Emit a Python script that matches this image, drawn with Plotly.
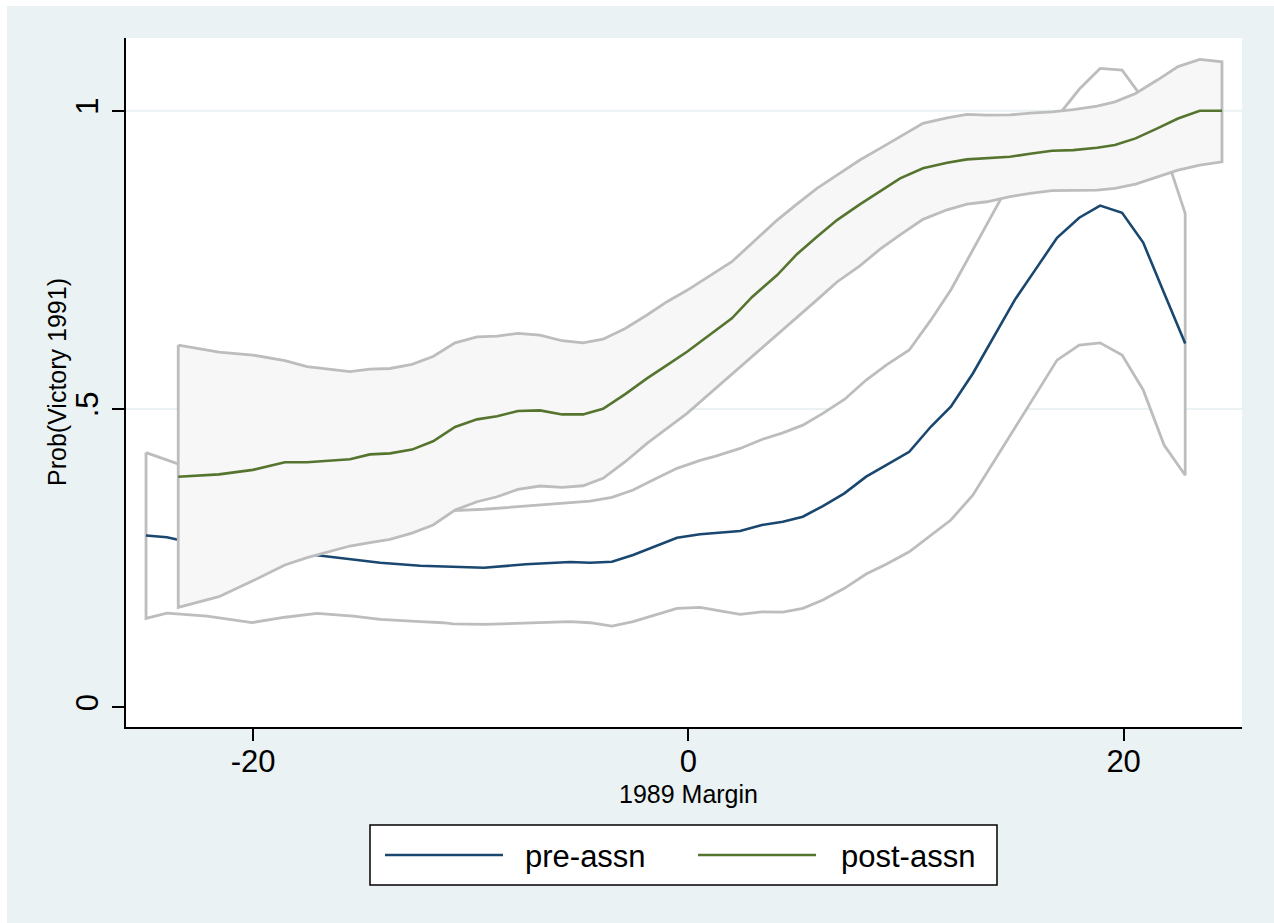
import plotly.graph_objects as go

# Pre-assassination lowess estimate with its confidence bounds
pre_margin = [-24.92, -23.96, -23.45, -22.12, -20.05, -18.53, -17.06, -15.4, -14.16,
              -12.32, -11.27, -10.81, -9.39, -7.46, -5.43, -4.52, -3.51, -2.54, -1.53,
              -0.52, 0.54, 1.26, 2.38, 3.38, 4.34, 5.26, 6.18, 7.17, 8.17, 9.09, 10.15,
              11.14, 12.06, 13.08, 15.0, 15.97, 16.94, 17.96, 18.92, 19.93, 20.9, 21.86,
              22.83]
pre_prob = [0.288, 0.285, 0.281, 0.276, 0.268, 0.262, 0.255, 0.248, 0.2424,
            0.2373, 0.2357, 0.235, 0.234, 0.2397, 0.2436, 0.2424, 0.244, 0.2553, 0.2704,
            0.2843, 0.290, 0.292, 0.2955, 0.3056, 0.311, 0.3195, 0.3374, 0.3587, 0.3866,
            0.406, 0.4284, 0.4703, 0.5039, 0.56, 0.683, 0.735, 0.787, 0.8207, 0.841,
            0.829, 0.779, 0.6945, 0.610]
pre_lower = [0.149, 0.158, 0.156, 0.153, 0.142, 0.151, 0.1576, 0.153, 0.1475,
             0.1435, 0.1418, 0.140, 0.139, 0.1418, 0.1435, 0.1418, 0.1363, 0.1435, 0.1547,
             0.1659, 0.1676, 0.163, 0.1559, 0.160, 0.1597, 0.1659, 0.180, 0.1995, 0.2234,
             0.2397, 0.2608, 0.2888, 0.314, 0.356, 0.469, 0.525, 0.582, 0.6073, 0.611,
             0.5905, 0.532, 0.4397, 0.389]
pre_upper = [0.427, 0.414, 0.408, 0.398, 0.385, 0.372, 0.360, 0.346, 0.338,
             0.333, 0.331, 0.3296, 0.332, 0.337, 0.3425, 0.3455, 0.352, 0.3642, 0.3827,
             0.4006, 0.414, 0.421, 0.434, 0.449, 0.460, 0.473, 0.4928, 0.516, 0.5486,
             0.5737, 0.599, 0.649, 0.6995, 0.7665, 0.895, 0.945, 0.99, 1.036, 1.071,
             1.068, 1.02, 0.935, 0.828]

# Post-assassination lowess estimate with its confidence bounds
post_margin = [-23.44, -21.57, -20.01, -18.54, -17.52, -15.55, -14.63, -13.71, -12.7,
               -11.73, -10.72, -9.71, -8.79, -7.83, -6.82, -5.8, -4.84, -3.92, -2.9,
               -1.9, -0.98, -0.06, 2.0, 2.93, 4.08, 5.0, 5.91, 6.83, 7.88, 8.81, 9.73,
               10.78, 11.89, 12.8, 13.72, 14.78, 15.7, 16.71, 17.68, 18.78, 19.6, 20.55,
               21.55, 22.5, 23.5, 24.52]
post_prob = [0.3866, 0.3905, 0.398, 0.4107, 0.4107, 0.4157, 0.424, 0.4257, 0.432,
             0.446, 0.470, 0.4827, 0.488, 0.4966, 0.4978, 0.491, 0.491, 0.5005, 0.525,
             0.5514, 0.5737, 0.596, 0.652, 0.688, 0.7246, 0.760, 0.789, 0.8168, 0.843,
             0.865, 0.8867, 0.9035, 0.9129, 0.9185, 0.921, 0.923, 0.928, 0.933, 0.934,
             0.938, 0.9425, 0.9537, 0.9705, 0.987, 1.0, 1.0]
post_lower = [0.1676, 0.1854, 0.212, 0.2385, 0.251, 0.2704, 0.276, 0.2816, 0.292,
              0.3056, 0.3307, 0.3446, 0.353, 0.3654, 0.371, 0.3688, 0.3714, 0.3838, 0.4117,
              0.4425, 0.4677, 0.4928, 0.557, 0.587, 0.624, 0.654, 0.683, 0.713, 0.740,
              0.768, 0.792, 0.818, 0.834, 0.8436, 0.8475, 0.856, 0.8615, 0.866, 0.8665,
              0.867, 0.870, 0.877, 0.889, 0.9006, 0.909, 0.9145]
post_upper = [0.607, 0.5955, 0.5905, 0.581, 0.571, 0.5626, 0.567, 0.568, 0.575,
              0.588, 0.611, 0.621, 0.6224, 0.627, 0.624, 0.6145, 0.611, 0.617, 0.635,
              0.6576, 0.680, 0.699, 0.747, 0.778, 0.8168, 0.844, 0.870, 0.892, 0.9175,
              0.937, 0.9564, 0.979, 0.988, 0.994, 0.9928, 0.993, 0.996, 0.998, 1.002,
              1.008, 1.015, 1.029, 1.0515, 1.074, 1.086, 1.082]

x_ticks = [-20, 0, 20]
x_ticklabels = ["-20", "0", "20"]
y_ticks = [0, 0.5, 1]
y_ticklabels = ["0", ".5", "1"]
series_names = ["pre-assn", "post-assn"]

NAVY = "#1A476F"
GREEN = "#55752F"
BAND_LINE = "#BDBDBD"
BAND_FILL = "#F7F7F7"
REGION_BG = "#EAF2F3"
FONT = "Liberation Sans, Arial, Helvetica, sans-serif"


def band_polygon(x, lo, hi):
    xs = list(x) + list(x)[::-1] + [x[0]]
    ys = list(hi) + list(lo)[::-1] + [hi[0]]
    return xs, ys


fig = go.Figure()

px_, py_ = band_polygon(pre_margin, pre_lower, pre_upper)
fig.add_trace(go.Scatter(x=px_, y=py_, mode="lines", fill="toself", fillcolor="white",
                         line=dict(color=BAND_LINE, width=2.8), hoverinfo="skip",
                         showlegend=False))
fig.add_trace(go.Scatter(x=pre_margin, y=pre_prob, mode="lines", name=series_names[0],
                         line=dict(color=NAVY, width=2.6), showlegend=False))

qx, qy = band_polygon(post_margin, post_lower, post_upper)
fig.add_trace(go.Scatter(x=qx, y=qy, mode="lines", fill="toself", fillcolor=BAND_FILL,
                         line=dict(color=BAND_LINE, width=2.8), hoverinfo="skip",
                         showlegend=False))
fig.add_trace(go.Scatter(x=post_margin, y=post_prob, mode="lines", name=series_names[1],
                         line=dict(color=GREEN, width=2.6), showlegend=False))

W, H = 1274, 923
ML, MR, MT, MB = 126, 32, 38, 196
PW, PH = W - ML - MR, H - MT - MB


def pxx(p):
    return (p - ML) / PW


def pxy(p):
    return (H - MB - p) / PH


shapes = []
# horizontal grid lines (none at zero)
for v in y_ticks[1:]:
    shapes.append(dict(type="line", xref="paper", yref="y", x0=0, x1=1, y0=v, y1=v,
                       line=dict(color=REGION_BG, width=2), layer="below"))
# thin white frame at the top/left page edge
shapes.append(dict(type="rect", xref="paper", yref="paper", x0=pxx(0), x1=pxx(7),
                   y0=pxy(H), y1=pxy(0), fillcolor="white", line=dict(width=0),
                   layer="above"))
shapes.append(dict(type="rect", xref="paper", yref="paper", x0=pxx(0), x1=pxx(W),
                   y0=pxy(6), y1=pxy(0), fillcolor="white", line=dict(width=0),
                   layer="above"))

# legend box
shapes.append(dict(type="rect", xref="paper", yref="paper", x0=pxx(370), x1=pxx(997),
                   y0=pxy(885), y1=pxy(825), fillcolor="white",
                   line=dict(color="black", width=1.5), layer="above"))
legend_rows = [(series_names[0], NAVY, 385, 503, 523),
               (series_names[1], GREEN, 698, 816, 839)]
annotations = []
for name, col, l0, l1, tx in legend_rows:
    shapes.append(dict(type="line", xref="paper", yref="paper", x0=pxx(l0), x1=pxx(l1),
                       y0=pxy(855), y1=pxy(855), line=dict(color=col, width=2.6),
                       layer="above"))
    annotations.append(dict(text=name, xref="paper", yref="paper", x=pxx(tx), y=pxy(856),
                            xanchor="left", yanchor="middle", showarrow=False,
                            font=dict(family=FONT, size=31, color="black")))

# axis titles
annotations.append(dict(text="1989 Margin", xref="paper", yref="paper",
                        x=pxx(688), y=pxy(794), xanchor="center", yanchor="middle",
                        showarrow=False, font=dict(family=FONT, size=25, color="black")))
annotations.append(dict(text="Prob(Victory 1991)", xref="paper", yref="paper",
                        x=pxx(57), y=pxy(382), xanchor="center", yanchor="middle",
                        textangle=-90, showarrow=False,
                        font=dict(family=FONT, size=25, color="black")))

fig.update_layout(
    width=W, height=H,
    margin=dict(l=ML, r=MR, t=MT, b=MB, pad=0),
    paper_bgcolor=REGION_BG,
    plot_bgcolor="white",
    font=dict(family=FONT, color="black"),
    shapes=shapes,
    annotations=annotations,
    showlegend=False,
    xaxis=dict(range=[-25.84, 25.44], tickvals=x_ticks, ticktext=x_ticklabels,
               ticks="outside", ticklen=12, tickwidth=1.5, tickcolor="black",
               showline=True, linewidth=2, linecolor="black", mirror=False,
               showgrid=False, zeroline=False, tickfont=dict(size=31),
               ticklabelstandoff=-6),
    yaxis=dict(range=[-0.033, 1.122], tickvals=y_ticks, ticktext=y_ticklabels,
               tickangle=-90, ticks="outside", ticklen=12, tickwidth=1.5,
               tickcolor="black", showline=True, linewidth=2, linecolor="black",
               showgrid=False, zeroline=False, tickfont=dict(size=31),
               ticklabelstandoff=2),
)

fig.write_html("out.html")
